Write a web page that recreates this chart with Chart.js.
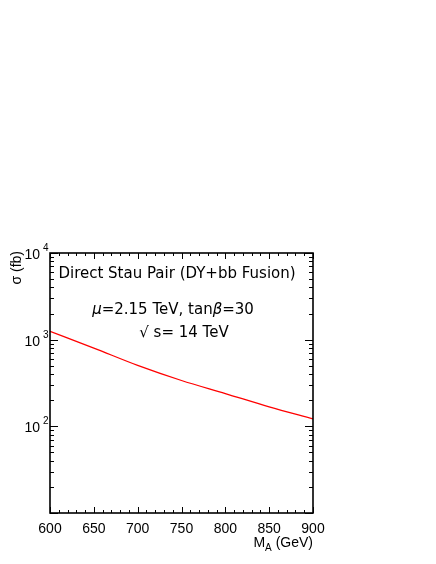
<!DOCTYPE html>
<html>
<head>
<meta charset="utf-8">
<script src="https://cdn.jsdelivr.net/npm/chart.js@4.4.0/dist/chart.umd.min.js"></script>
<style>
  html, body { margin: 0; padding: 0; background: #fff; }
  canvas { display: block; }
</style>
</head>
<body>
<canvas id="myChart" width="436" height="564"></canvas>
<script>
// cross section (fb) vs M_A (GeV)
const massPoints = [600, 650, 700, 750, 800, 850, 900];
const sigmaFb = [1250, 800, 505, 338, 239, 168, 122];

// axis ticks
const xTickLabels = [600, 650, 700, 750, 800, 850, 900];
const yTickExponents = [2, 3, 4];

const AXIS_FONT = '14px "Liberation Sans", Arial, sans-serif';
const SUP_FONT = '10px "Liberation Sans", Arial, sans-serif';
const NOTE_FONT = '"DejaVu Sans", sans-serif';

// draw a list of [text, font] runs centred on cx
function drawRuns(ctx, runs, cx, baseline) {
  let total = 0;
  runs.forEach(r => { ctx.font = r[1]; total += ctx.measureText(r[0]).width; });
  let x = cx - total / 2;
  ctx.textAlign = 'left';
  runs.forEach(r => {
    ctx.font = r[1];
    ctx.fillText(r[0], x, baseline);
    x += ctx.measureText(r[0]).width;
  });
}

const framePlugin = {
  id: 'frame',
  afterDraw(chart) {
    const ctx = chart.ctx;
    const xs = chart.scales.x;
    const ys = chart.scales.y;
    const a = chart.chartArea;
    ctx.save();
    ctx.strokeStyle = '#000';
    ctx.fillStyle = '#000';

    // frame
    ctx.lineWidth = 1.6;
    ctx.strokeRect(a.left, a.top, a.right - a.left, a.bottom - a.top);

    // x ticks (bottom and top)
    ctx.lineWidth = 1;
    ctx.beginPath();
    for (let v = 600; v <= 900; v += 10) {
      const px = Math.round(xs.getPixelForValue(v)) + 0.5;
      const len = (v % 50 === 0) ? 6 : 3;
      ctx.moveTo(px, a.bottom); ctx.lineTo(px, a.bottom - len);
      ctx.moveTo(px, a.top); ctx.lineTo(px, a.top + len);
    }
    // y ticks (left and right)
    for (let d = 1; d <= 4; d++) {
      for (let m = 1; m <= 9; m++) {
        if (d === 4 && m > 1) break;
        const py = Math.round(ys.getPixelForValue(m * Math.pow(10, d))) + 0.5;
        const len = (m === 1) ? 8 : 4;
        ctx.moveTo(a.left, py); ctx.lineTo(a.left + len, py);
        ctx.moveTo(a.right, py); ctx.lineTo(a.right - len, py);
      }
    }
    ctx.stroke();

    // x tick labels
    ctx.font = AXIS_FONT;
    ctx.textAlign = 'center';
    ctx.textBaseline = 'alphabetic';
    xTickLabels.forEach(v => {
      ctx.fillText(String(v), xs.getPixelForValue(v), 533);
    });

    // y tick labels 10^n
    yTickExponents.forEach(e => {
      const py = ys.getPixelForValue(Math.pow(10, e));
      ctx.font = AXIS_FONT;
      ctx.textAlign = 'right';
      ctx.fillText('10', 40, py + 6);
      ctx.font = SUP_FONT;
      ctx.textAlign = 'left';
      ctx.fillText(String(e), 43, py - 2);
    });

    // x axis title
    ctx.font = AXIS_FONT;
    ctx.textAlign = 'right';
    ctx.fillText(' (GeV)', a.right, 547);
    const gevW = ctx.measureText(' (GeV)').width;
    ctx.font = SUP_FONT;
    ctx.fillText('A', a.right - gevW, 551);
    const aW = ctx.measureText('A').width;
    ctx.font = AXIS_FONT;
    ctx.fillText('M', a.right - gevW - aW, 547);

    // y axis title
    ctx.save();
    ctx.translate(21, a.top - 2);
    ctx.rotate(-Math.PI / 2);
    ctx.textAlign = 'right';
    ctx.font = AXIS_FONT;
    ctx.fillText('\u03c3 (fb)', 0, 0);
    ctx.restore();

    // notes inside the frame
    const reg = '15px ' + NOTE_FONT;
    const ital = 'italic 15px ' + NOTE_FONT;
    ctx.font = reg;
    ctx.textAlign = 'center';
    ctx.fillText('Direct Stau Pair (DY+bb Fusion)', 177, 278);
    drawRuns(ctx, [['\u03bc', ital], ['=2.15 TeV, tan', reg], ['\u03b2', ital], ['=30', reg]], 173, 314);
    drawRuns(ctx, [['\u221a s= 14 TeV', reg]], 184, 337);

    ctx.restore();
  }
};

const ctx = document.getElementById('myChart').getContext('2d');
const myChart = new Chart(ctx, {
  type: 'line',
  data: {
    datasets: [{
      data: massPoints.map((m, i) => ({ x: m, y: sigmaFb[i] })),
      borderColor: '#ff0000',
      borderWidth: 1.3,
      pointRadius: 0,
      cubicInterpolationMode: 'monotone',
      fill: false
    }]
  },
  options: {
    responsive: false,
    animation: false,
    devicePixelRatio: 1,
    layout: { padding: { left: 50, top: 253, right: 123, bottom: 51 } },
    plugins: { legend: { display: false }, tooltip: { enabled: false } },
    scales: {
      x: { type: 'linear', min: 600, max: 900, display: false },
      y: { type: 'logarithmic', min: 10, max: 10000, display: false }
    }
  },
  plugins: [framePlugin]
});
</script>
</body>
</html>
